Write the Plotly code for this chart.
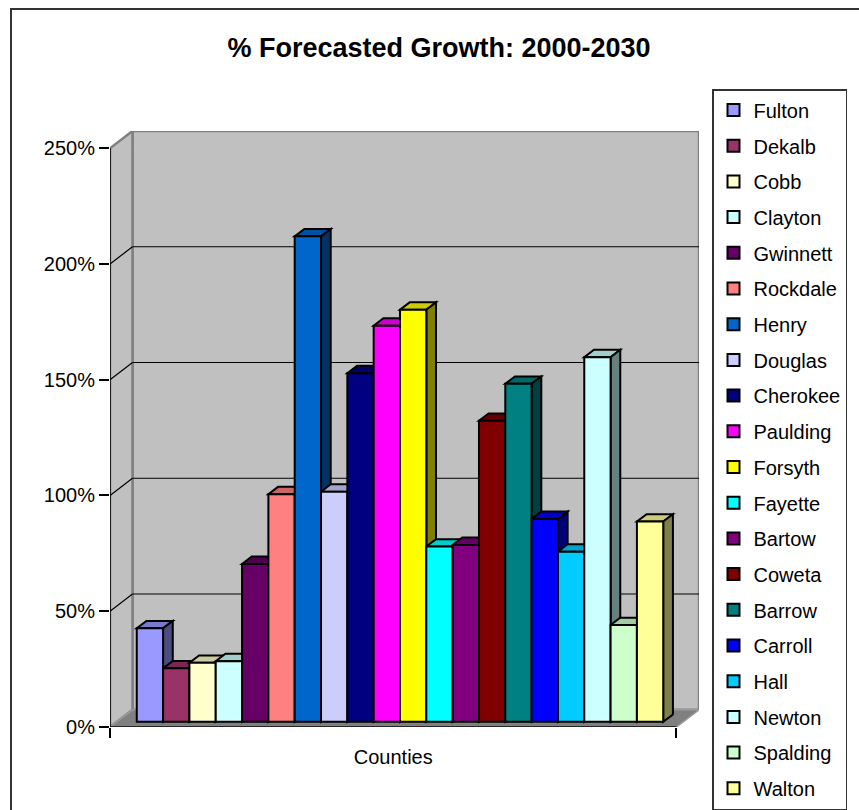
import plotly.graph_objects as go

# ---------------- data ----------------
counties = ["Fulton", "Dekalb", "Cobb", "Clayton", "Gwinnett", "Rockdale", "Henry",
            "Douglas", "Cherokee", "Paulding", "Forsyth", "Fayette", "Bartow", "Coweta",
            "Barrow", "Carroll", "Hall", "Newton", "Spalding", "Walton"]
growth = [40.4, 23.1, 25.5, 26.2, 68.2, 98.3, 209.7, 99.4, 150.6, 171.1,
          178.0, 75.7, 76.4, 130.0, 146.0, 87.6, 73.5, 157.5, 41.8, 86.5]
colors = ["#9999FF", "#993366", "#FFFFCC", "#CCFFFF", "#660066", "#FF8080", "#0066CC",
          "#CCCCFF", "#000080", "#FF00FF", "#FFFF00", "#00FFFF", "#800080", "#800000",
          "#008080", "#0000FF", "#00CCFF", "#CCFFFF", "#CCFFCC", "#FFFF99"]
y_ticks = [0, 50, 100, 150, 200, 250]
category_label = "Counties"
chart_title = "% Forecasted Growth: 2000-2030"

# ---------------- 3-D look parameters ----------------
GAP = 0.76      # gap (in bar widths) at each end of the category
DX = 0.855      # full depth offset along x (bar-width units)
DY = 7.44       # full depth offset along y (percent units)
D0 = 0.30       # depth fraction of the bars' front plane
BD = 0.43       # bar depth fraction
YMAX = y_ticks[-1]
N = len(counties)
A = N + 2 * GAP  # front axis length

FONT = "Liberation Sans, Arial, sans-serif"


def shade(hexc, f):
    h = hexc.lstrip("#")
    r, g, b = (int(h[k:k + 2], 16) for k in (0, 2, 4))
    return "#%02x%02x%02x" % (int(r * f), int(g * f), int(b * f))


def path(pts):
    return "M " + " L ".join(f"{x},{y}" for x, y in pts) + " Z"


shapes = []
# back wall
shapes.append(dict(type="rect", xref="x", yref="y", x0=DX, x1=A + DX, y0=DY, y1=YMAX + DY,
                   fillcolor="#C0C0C0", line=dict(color="#808080", width=2.5), layer="below"))
# side wall
shapes.append(dict(type="path", xref="x", yref="y",
                   path=path([(0, 0), (DX, DY), (DX, YMAX + DY), (0, YMAX)]),
                   fillcolor="#C0C0C0", line=dict(color="#808080", width=2.5), layer="below"))
# floor
shapes.append(dict(type="path", xref="x", yref="y",
                   path=path([(0, 0), (A, 0), (A + DX, DY), (DX, DY)]),
                   fillcolor="#808080", line=dict(color="#9A9A9A", width=1.5), layer="below"))
# gridlines on back and side walls
for v in y_ticks[1:-1]:
    shapes.append(dict(type="line", xref="x", yref="y", x0=DX, x1=A + DX, y0=v + DY, y1=v + DY,
                       line=dict(color="black", width=1.2), layer="below"))
    shapes.append(dict(type="line", xref="x", yref="y", x0=0, x1=DX, y0=v, y1=v + DY,
                       line=dict(color="black", width=1.2), layer="below"))
# axis lines
shapes.append(dict(type="line", xref="x", yref="y", x0=0, x1=0, y0=0, y1=YMAX,
                   line=dict(color="black", width=1.5), layer="below"))
shapes.append(dict(type="line", xref="x", yref="y", x0=0, x1=A, y0=0, y1=0,
                   line=dict(color="black", width=1.5), layer="below"))

fig = go.Figure()
yb = D0 * DY
for i, (name, v, c) in enumerate(zip(counties, growth, colors)):
    xl = GAP + i + D0 * DX
    xr = xl + 1
    yt = yb + v
    ox, oy = BD * DX, BD * DY
    # top face
    shapes.append(dict(type="path", xref="x", yref="y",
                       path=path([(xl, yt), (xr, yt), (xr + ox, yt + oy), (xl + ox, yt + oy)]),
                       fillcolor=shade(c, 0.8), line=dict(color="black", width=2), layer="below"))
    # side face
    shapes.append(dict(type="path", xref="x", yref="y",
                       path=path([(xr, yb), (xr + ox, yb + oy), (xr + ox, yt + oy), (xr, yt)]),
                       fillcolor=shade(c, 0.5), line=dict(color="black", width=2), layer="below"))
    # front face
    fig.add_trace(go.Bar(x=[xl + 0.5], y=[v], base=[yb], width=[1], name=name,
                         legendgroup=name,
                         marker=dict(color=c, line=dict(color="black", width=2)),
                         hovertemplate=name + ": %{y:.1f}%<extra></extra>"))

# outer chart border (paper coords)
PW, PH, L, T, B = 589, 596, 110, 131, 83
shapes.append(dict(type="rect", xref="paper", yref="paper",
                   x0=(11 - L) / PW, x1=(875 - L) / PW,
                   y0=(810 - B - 830) / PH, y1=(810 - B - 9) / PH,
                   fillcolor="rgba(0,0,0,0)", line=dict(color="#333333", width=2), layer="above"))

fig.update_layout(
    width=859, height=810, autosize=False,
    margin=dict(l=L, r=859 - L - PW, t=T, b=B, pad=0),
    paper_bgcolor="white", plot_bgcolor="white",
    barmode="overlay",
    shapes=shapes,
    font=dict(family=FONT, color="black", size=20),
    title=dict(text=chart_title, x=(439 - L) / PW, xref="paper", xanchor="center",
               y=1 - 47.5 / 810, yref="container", yanchor="middle",
               font=dict(size=27, family=FONT, weight="bold", color="black")),
    xaxis=dict(range=[0, A + DX], showgrid=False, zeroline=False, showline=False,
               tickmode="array", tickvals=[A / 2], ticktext=[category_label], ticks="",
               ticklabelstandoff=16, tickfont=dict(size=20, family=FONT),
               minor=dict(tickmode="array", tickvals=[0, A], ticks="outside", ticklen=10,
                          tickcolor="black", tickwidth=1.5, showgrid=False),
               fixedrange=True),
    yaxis=dict(range=[0, YMAX + DY], showgrid=False, zeroline=False, showline=False,
               tickmode="array", tickvals=y_ticks, ticktext=[f"{v}%" for v in y_ticks],
               ticks="outside", ticklen=10, tickcolor="black", tickwidth=1.5,
               tickfont=dict(size=20, family=FONT), fixedrange=True),
    legend=dict(x=(712 - L) / PW, y=(810 - B - 95) / PH, xanchor="left", yanchor="top",
                bgcolor="white", bordercolor="#333333", borderwidth=1.5,
                font=dict(size=20, family=FONT), tracegroupgap=6.7, maxheight=2000,
                itemclick=False, itemdoubleclick=False),
    showlegend=True,
)

fig.write_html("out.html")
